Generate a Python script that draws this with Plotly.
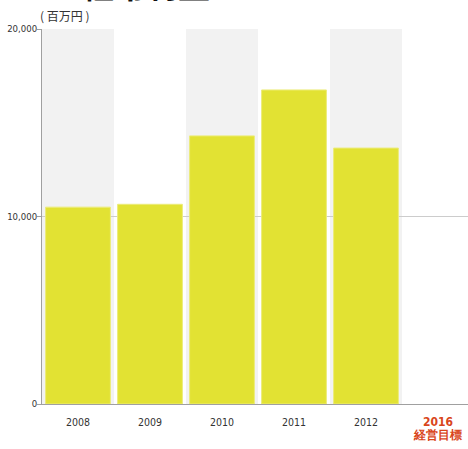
import plotly.graph_objects as go

# Ordinary profit by fiscal year (million yen)
years = ["2008", "2009", "2010", "2011", "2012", "2016"]
profit = [10500, 10650, 14300, 16750, 13650, None]
tick_text = ["2008", "2009", "2010", "2011", "2012",
             "<b><span style='color:#d9461b;font-size:12px'>2016<br>経営目標</span></b>"]
y_ticks = [0, 10000, 20000]
y_tick_text = ["0", "10,000", "20,000"]

bar_color = "#e2e233"
band_color = "#f2f2f2"
axis_color = "#a0a0a0"
narrow = "DejaVu Sans Condensed"

fig = go.Figure()
fig.add_trace(go.Bar(
    x=years, y=profit,
    marker=dict(color=bar_color, line=dict(color="#ecec7a", width=1)),
    hoverinfo="skip"
))

# Alternating gray bands behind every other category
shapes = []
for i in range(0, len(years), 2):
    shapes.append(dict(type="rect", xref="x", yref="paper",
                       x0=i - 0.5, x1=i + 0.5, y0=0, y1=1,
                       fillcolor=band_color, line=dict(width=0), layer="below"))

# Plot runs slightly past the right edge of the window, as in the original
fig.update_layout(
    template="none",
    width=474, height=449,
    margin=dict(l=42, r=0, t=29, b=45),
    paper_bgcolor="white", plot_bgcolor="white",
    showlegend=False,
    bargap=0.1,
    shapes=shapes,
    font=dict(family=narrow, size=10, color="#333333"),
    xaxis=dict(
        type="category", tickmode="array", tickvals=years, ticktext=tick_text,
        range=[-0.5, 5.5], showline=True, linecolor=axis_color, linewidth=1,
        showgrid=False, ticks="outside", ticklen=8, tickcolor="rgba(0,0,0,0)",
        automargin=False,
        tickfont=dict(size=10.5, color="#333333", family=narrow),
    ),
    yaxis=dict(
        range=[0, 20000], tickmode="array", tickvals=y_ticks, ticktext=y_tick_text,
        showline=True, linecolor=axis_color, linewidth=1,
        showgrid=True, gridcolor="#cccccc", gridwidth=1, zeroline=False,
        ticks="outside", ticklen=4, tickcolor=axis_color, automargin=False,
        ticklabelstandoff=-2,
        tickfont=dict(size=9.5, color="#333333", family=narrow),
    ),
    annotations=[
        dict(text="( 百万円 )", xref="paper", yref="paper", x=0, y=1,
             xanchor="left", yanchor="bottom", xshift=-4, yshift=3, showarrow=False,
             font=dict(size=12, color="#333333", family="Noto Sans CJK JP")),
        dict(text="<b>経常利益</b>", xref="paper", yref="paper", x=0.24, y=1,
             xanchor="center", yanchor="bottom", yshift=20, showarrow=False,
             font=dict(size=32, color="#111111", family="Noto Sans CJK JP")),
    ],
)

fig.write_html("out.html", config={"displayModeBar": False},
               post_script="document.body.style.margin='0';document.body.style.overflow='hidden';")
